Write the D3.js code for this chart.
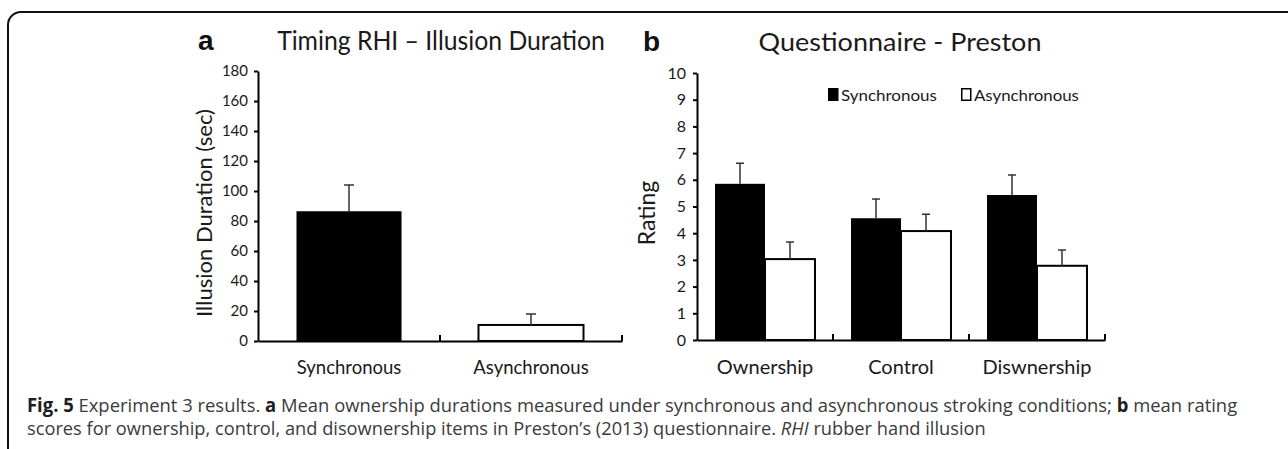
<!DOCTYPE html>
<html><head><meta charset="utf-8">
<script src="https://cdn.jsdelivr.net/npm/d3@7"></script>
<style>body{margin:0;background:#fff}svg{display:block}</style>
</head><body><svg id="c" width="1288" height="449"></svg>
<script>
// ---------- data ----------
const categoriesA = ["Synchronous", "Asynchronous"];
const durationMeans = [86.5, 10.7];
const durationErrors = [17.5, 7.3];
const ticksA = [0, 20, 40, 60, 80, 100, 120, 140, 160, 180];

const categoriesB = ["Ownership", "Control", "Diswnership"];
const seriesB = ["Synchronous", "Asynchronous"];
const syncRatings = [5.85, 4.56, 5.43];
const syncErrors = [0.77, 0.72, 0.75];
const asyncRatings = [3.03, 4.08, 2.78];
const asyncErrors = [0.64, 0.63, 0.59];
const ticksB = [0, 1, 2, 3, 4, 5, 6, 7, 8, 9, 10];

const titleA = "Timing RHI \u2013 Illusion Duration";
const titleB = "Questionnaire - Preston";
const yLabelA = "Illusion Duration (sec)";
const yLabelB = "Rating";

// ---------- setup ----------
const svg = d3.select("#c");
const FONT = "Lato, 'Open Sans', sans-serif";
const INK = "#1a1a1a";

function fitX(sel, target, ax) {
  const w = sel.node().getComputedTextLength();
  const k = target / w;
  sel.attr("transform", `translate(${ax},0) scale(${k},1) translate(${-ax},0)`);
}

// frame
svg.append("path")
  .attr("d", "M1292,12 H21 A13,13 0 0 0 8,25 V455")
  .attr("fill", "none").attr("stroke", "#111").attr("stroke-width", 2);

// ---------- chart a ----------
const xA = d3.scaleBand().domain(categoriesA).range([258, 622]);
const yA = d3.scaleLinear().domain([0, 180]).range([341, 71]);
const gA = svg.append("g");
const barWA = xA.bandwidth() * 0.577;

gA.selectAll("rect.bar").data(categoriesA).join("rect")
  .attr("x", d => xA(d) + xA.bandwidth() / 2 - barWA / 2)
  .attr("y", (d, i) => yA(durationMeans[i]))
  .attr("width", barWA)
  .attr("height", (d, i) => yA(0) - yA(durationMeans[i]))
  .attr("fill", (d, i) => i === 0 ? "#000" : "#fff")
  .attr("stroke", "#000").attr("stroke-width", (d, i) => i === 0 ? 0 : 2);

categoriesA.forEach((c, i) => {
  const cx = xA(c) + xA.bandwidth() / 2;
  const top = yA(durationMeans[i] + durationErrors[i]);
  gA.append("line").attr("x1", cx).attr("x2", cx).attr("y1", yA(durationMeans[i])).attr("y2", top)
    .attr("stroke", "#333").attr("stroke-width", 1.5);
  gA.append("line").attr("x1", cx - 5).attr("x2", cx + 5).attr("y1", top).attr("y2", top)
    .attr("stroke", "#333").attr("stroke-width", 1.5);
});

const axA = gA.append("g").attr("transform", "translate(258,0)")
  .call(d3.axisLeft(yA).tickValues(ticksA).tickSize(4).tickSizeOuter(0).tickPadding(6));
const axAx = gA.append("g").attr("transform", "translate(0,341)")
  .call(d3.axisBottom(xA).tickSize(0).tickPadding(20));
axAx.selectAll("text").style("font-size", "18.5px");
categoriesA.forEach(c => {
  const bx = xA(c) + xA.bandwidth();
  gA.append("line").attr("x1", bx).attr("x2", bx).attr("y1", 341).attr("y2", 335)
    .attr("stroke", "#000").attr("stroke-width", 2);
});
[axA, axAx].forEach(a => {
  a.select(".domain").attr("stroke", "#000").attr("stroke-width", 2);
  a.selectAll(".tick line").attr("stroke", "#000").attr("stroke-width", 2);
  a.selectAll("text").attr("fill", INK).style("font-family", FONT);
});
axA.selectAll("text").style("font-size", "15px");

svg.append("text").attr("x", 198).attr("y", 50).text("a")
  .style("font-family", "'Liberation Sans', Arial, sans-serif").style("font-weight", "bold")
  .style("font-size", "28px").attr("fill", "#111");
const tA = svg.append("text").attr("x", 441).attr("y", 50).attr("text-anchor", "middle").text(titleA)
  .style("font-family", FONT).style("font-size", "26px").attr("fill", INK);
fitX(tA, 328, 441);
svg.append("text").attr("transform", "translate(212,213) rotate(-90)")
  .attr("text-anchor", "middle").text(yLabelA)
  .style("font-family", FONT).style("font-size", "22px").attr("fill", INK);

// ---------- chart b ----------
const xB = d3.scaleBand().domain(categoriesB).range([697, 1105]);
const groupW = xB.bandwidth() * 0.735;
const xB1 = d3.scaleBand().domain(seriesB).range([0, groupW]);
const yB = d3.scaleLinear().domain([0, 10]).range([340, 73]);
const gB = svg.append("g");

const seriesVals = [syncRatings, asyncRatings];
const seriesErrs = [syncErrors, asyncErrors];
seriesB.forEach((s, si) => {
  categoriesB.forEach((c, ci) => {
    const x0 = xB(c) + xB.bandwidth() / 2 - groupW / 2 + xB1(s);
    const v = seriesVals[si][ci];
    gB.append("rect").attr("x", x0).attr("y", yB(v))
      .attr("width", xB1.bandwidth()).attr("height", yB(0) - yB(v))
      .attr("fill", si === 0 ? "#000" : "#fff")
      .attr("stroke", "#000").attr("stroke-width", si === 0 ? 0 : 2);
    const cx = x0 + xB1.bandwidth() / 2;
    const top = yB(v + seriesErrs[si][ci]);
    gB.append("line").attr("x1", cx).attr("x2", cx).attr("y1", yB(v)).attr("y2", top)
      .attr("stroke", "#333").attr("stroke-width", 1.5);
    gB.append("line").attr("x1", cx - 4).attr("x2", cx + 4).attr("y1", top).attr("y2", top)
      .attr("stroke", "#333").attr("stroke-width", 1.5);
  });
});

const axB = gB.append("g").attr("transform", "translate(697,0)")
  .call(d3.axisLeft(yB).tickValues(ticksB).tickSize(4).tickSizeOuter(0).tickPadding(7));
const axBx = gB.append("g").attr("transform", "translate(0,340)")
  .call(d3.axisBottom(xB).tickSize(0).tickPadding(20));
axBx.selectAll("text").style("font-size", "20px");
categoriesB.forEach(c => {
  const bx = xB(c) + xB.bandwidth();
  gB.append("line").attr("x1", bx).attr("x2", bx).attr("y1", 340).attr("y2", 334)
    .attr("stroke", "#000").attr("stroke-width", 2);
});
[axB, axBx].forEach(a => {
  a.select(".domain").attr("stroke", "#000").attr("stroke-width", 2);
  a.selectAll(".tick line").attr("stroke", "#000").attr("stroke-width", 2);
  a.selectAll("text").attr("fill", INK).style("font-family", FONT);
});
axB.selectAll("text").style("font-size", "16px");

svg.append("text").attr("x", 643).attr("y", 51).text("b")
  .style("font-family", "'Liberation Sans', Arial, sans-serif").style("font-weight", "bold")
  .style("font-size", "28px").attr("fill", "#111");
const tB = svg.append("text").attr("x", 900).attr("y", 51).attr("text-anchor", "middle").text(titleB)
  .style("font-family", FONT).style("font-size", "26px").attr("fill", INK);
fitX(tB, 283, 900);
svg.append("text").attr("transform", "translate(655,213) rotate(-90)")
  .attr("text-anchor", "middle").text(yLabelB)
  .style("font-family", FONT).style("font-size", "23px").attr("fill", INK);

// legend
const legX = [828, 961];
seriesB.forEach((s, i) => {
  svg.append("rect").attr("x", legX[i] + (i ? 0.75 : 0)).attr("y", 88 + (i ? 0.75 : 0))
    .attr("width", i ? 9 : 10.5).attr("height", i ? 11.5 : 13)
    .attr("fill", i ? "#fff" : "#000").attr("stroke", "#000").attr("stroke-width", i ? 1.5 : 0);
  const t = svg.append("text").attr("x", legX[i] + 13).attr("y", 101).text(s)
    .style("font-family", FONT).style("font-size", "16px").attr("fill", INK);
  fitX(t, i ? 105 : 96, legX[i] + 13);
});

// ---------- caption ----------
const capStyle = t => t.style("font-family", "'Open Sans', sans-serif").style("font-size", "19px").attr("fill", "#3a3a3a");
const c1 = capStyle(svg.append("text").attr("x", 27).attr("y", 412));
c1.append("tspan").text("Fig. 5").style("font-weight", "bold").attr("fill", "#1e1e1e");
c1.append("tspan").text(" Experiment 3 results. ");
c1.append("tspan").text("a").style("font-weight", "bold").attr("fill", "#1e1e1e");
c1.append("tspan").text(" Mean ownership durations measured under synchronous and asynchronous stroking conditions; ");
c1.append("tspan").text("b").style("font-weight", "bold").attr("fill", "#1e1e1e");
c1.append("tspan").text(" mean rating");
fitX(c1, 1211, 27);
const c2 = capStyle(svg.append("text").attr("x", 27).attr("y", 435));
c2.append("tspan").text("scores for ownership, control, and disownership items in Preston\u2019s (2013) questionnaire. ");
c2.append("tspan").text("RHI").style("font-style", "italic");
c2.append("tspan").text(" rubber hand illusion");
fitX(c2, 959, 27);
</script></body></html>
